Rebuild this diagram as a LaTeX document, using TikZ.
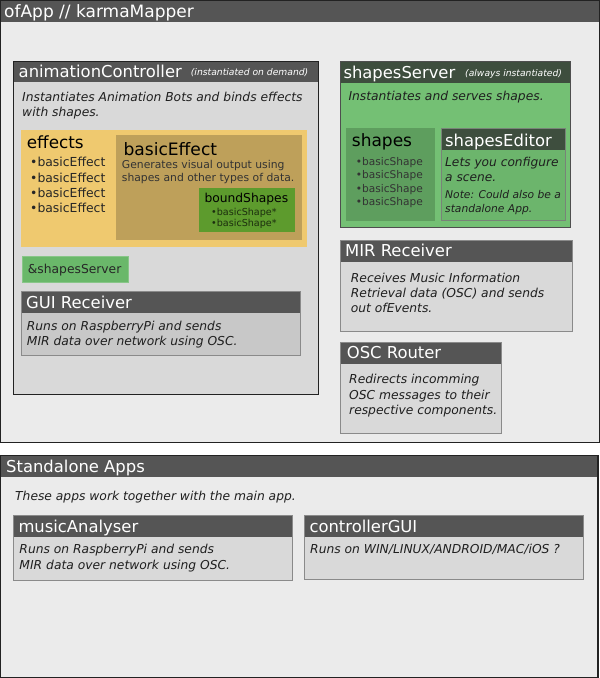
\documentclass[tikz,border=0pt]{standalone}
\usepackage{fontspec}
\setmainfont{DejaVu Sans}
\usetikzlibrary{calc}
\definecolor{headgray}{RGB}{85,85,85}
\definecolor{bodylight}{RGB}{235,235,235}
\definecolor{bodygray}{RGB}{217,217,217}
\definecolor{bodydark}{RGB}{200,200,200}
\definecolor{framedark}{RGB}{34,34,34}
\definecolor{framegray}{RGB}{138,138,138}
\definecolor{effectyellow}{RGB}{239,201,111}
\definecolor{effectbrown}{RGB}{190,160,90}
\definecolor{boundgreen}{RGB}{93,155,45}
\definecolor{servergreen}{RGB}{116,192,116}
\definecolor{serverhead}{RGB}{62,78,62}
\definecolor{shapesgreen}{RGB}{94,158,94}
\definecolor{editorgreen}{RGB}{108,181,108}
\definecolor{linkgreen}{RGB}{106,184,106}

\begin{document}
\begin{tikzpicture}[x=1pt, y=-1pt,
    outerbox/.style={draw=framedark, line width=1.3pt, fill=bodylight},
    ctrlbox/.style={draw=framedark, line width=1pt, fill=bodygray},
    plainbox/.style={draw=framegray, line width=0.9pt, fill=bodygray},
    headbar/.style={fill=headgray},
    headtext/.style={anchor=base west, inner sep=0pt, white, font=\fontsize{16.4}{19}\selectfont},
    notetext/.style={anchor=base west, inner sep=0pt, white, font=\fontsize{9.2}{11}\selectfont\itshape},
    desctext/.style={anchor=base west, inner sep=0pt, align=left, black!88, font=\fontsize{12.3}{15.5}\selectfont\itshape},
    itemtext/.style={anchor=base west, inner sep=0pt, align=left, black!85, font=\fontsize{12.4}{15.3}\selectfont},
    ]

    \useasboundingbox (0,0) rectangle (600,678);

    % ofApp // karmaMapper
    \draw[outerbox] (0.65,0.65) rectangle (599.35,442.3);
    \fill[headbar] (1.3,1.3) rectangle (598.7,22);
    \node[headtext, font=\fontsize{17}{20}\selectfont] (ofapp) at (4,17.3) {ofApp // karmaMapper};

    % animationController (base of a multi-line text = its last line)
    \draw[ctrlbox] (13.5,61) rectangle (318.3,394);
    \fill[headbar] (14,61.5) rectangle (317.8,82);
    \node[headtext] (animctrl) at (18.5,77.3) {animationController};
    \node[notetext] (animnote) at (190.7,75.3) {(instantiated on demand)};
    \node[desctext, font=\fontsize{12.3}{15.7}\selectfont\itshape] (animdesc) at (22,116.7) {Instantiates Animation Bots and binds effects\\with shapes.};

    \fill[effectyellow] (21,130) rectangle (307.3,246.7);
    \node[itemtext, font=\fontsize{16.8}{19}\selectfont, black] (effects) at (26.7,148.3) {effects};
    \node[itemtext] (effectlist) at (30,212.7) {•basicEffect\\•basicEffect\\•basicEffect\\•basicEffect};

    \fill[effectbrown] (116,135.3) rectangle (302,240);
    \node[itemtext, font=\fontsize{17.1}{20}\selectfont, black] (basiceffect) at (123.3,155) {basicEffect};
    \node[itemtext, font=\fontsize{10.8}{13.4}\selectfont, black!80] (effectdesc) at (121.7,181.7) {Generates visual output using\\shapes and other types of data.};

    \fill[boundgreen] (199,188) rectangle (294.7,231.7);
    \node[itemtext, font=\fontsize{12.3}{15}\selectfont, black] (boundshapes) at (204.3,202.3) {boundShapes};
    \node[itemtext, font=\fontsize{9.6}{11.7}\selectfont, black!70!boundgreen] (boundlist) at (211,226.7) {•basicShape*\\•basicShape*};

    \draw[draw=linkgreen!80!white, fill=linkgreen] (22.3,256) rectangle (127.7,281.7);
    \node[itemtext, font=\fontsize{12.3}{14}\selectfont] (serverref) at (27.7,273.3) {\&shapesServer};

    % GUI Receiver
    \draw[plainbox, fill=bodydark] (21.3,291.3) rectangle (300.3,355.7);
    \fill[headbar] (21.8,291.8) rectangle (299.8,312.7);
    \node[headtext] (guirecv) at (26,308.3) {GUI Receiver};
    \node[desctext, font=\fontsize{12.3}{15}\selectfont\itshape] (guidesc) at (26.7,345) {Runs on RaspberryPi and sends\\MIR data over network using OSC.};

    % shapesServer
    \draw[draw=framedark!80, line width=1pt, fill=servergreen] (340,61.7) rectangle (570.7,227.3);
    \fill[serverhead] (340.5,62.2) rectangle (570.2,82.7);
    \node[headtext] (shapesserver) at (343.3,78.3) {shapesServer};
    \node[notetext] (servernote) at (465,76) {(always instantiated)};
    \node[desctext] (serverdesc) at (348.3,100.7) {Instantiates and serves shapes.};

    \fill[shapesgreen] (345.7,128.3) rectangle (435.3,220.7);
    \node[itemtext, font=\fontsize{17}{19}\selectfont, black] (shapes) at (351.7,146.7) {shapes};
    \node[itemtext, font=\fontsize{10.6}{13.5}\selectfont, black!80] (shapelist) at (355.7,205.7) {•basicShape\\•basicShape\\•basicShape\\•basicShape};

    \draw[draw=serverhead!70, line width=0.8pt, fill=editorgreen] (441.3,128.7) rectangle (565.3,220.7);
    \fill[serverhead] (441.7,129.1) rectangle (564.9,150);
    \node[headtext] (shapeseditor) at (445,146.7) {shapesEditor};
    \node[desctext, font=\fontsize{12.2}{15}\selectfont\itshape] (editordesc) at (445,181) {Lets you configure\\a scene.};
    \node[desctext, font=\fontsize{10.7}{14}\selectfont\itshape] (editornote) at (445,212.3) {Note: Could also be a\\standalone App.};

    % MIR Receiver
    \draw[plainbox] (340.7,240) rectangle (572.3,331);
    \fill[headbar] (341.2,240.5) rectangle (571.8,261.7);
    \node[headtext] (mirrecv) at (345,256.7) {MIR Receiver};
    \node[desctext, font=\fontsize{12.3}{15.2}\selectfont\itshape] (mirdesc) at (350.7,312.7) {Receives Music Information\\Retrieval data (OSC) and sends\\out ofEvents.};

    % OSC Router
    \draw[plainbox] (340.7,342.3) rectangle (501.7,433.3);
    \fill[headbar] (341.2,342.8) rectangle (501.2,364);
    \node[headtext] (oscrouter) at (346.7,358.3) {OSC Router};
    \node[desctext, font=\fontsize{12.3}{15.2}\selectfont\itshape] (oscdesc) at (349,414.3) {Redirects incomming\\OSC messages to their\\respective components.};

    % Standalone Apps
    \draw[outerbox] (0.65,455.7) rectangle (598,677.35);
    \fill[headbar] (1.3,456.3) rectangle (597.4,477);
    \node[headtext] (standalone) at (6,472) {Standalone Apps};
    \node[desctext] (standdesc) at (15,500) {These apps work together with the main app.};

    \draw[plainbox] (13.3,515.7) rectangle (292,580);
    \fill[headbar] (13.8,516.2) rectangle (291.5,537.3);
    \node[headtext] (musicanalyser) at (18.3,532.7) {musicAnalyser};
    \node[desctext, font=\fontsize{12.3}{16}\selectfont\itshape] (musicdesc) at (19.3,569.3) {Runs on RaspberryPi and sends\\MIR data over network using OSC.};

    \draw[plainbox] (304.3,515.7) rectangle (583.7,579.3);
    \fill[headbar] (304.8,516.2) rectangle (583.2,537);
    \node[headtext] (controllergui) at (309.3,532.7) {controllerGUI};
    \node[desctext] (guiappdesc) at (310,553) {Runs on WIN/LINUX/ANDROID/MAC/iOS ?};

\end{tikzpicture}
\end{document}
